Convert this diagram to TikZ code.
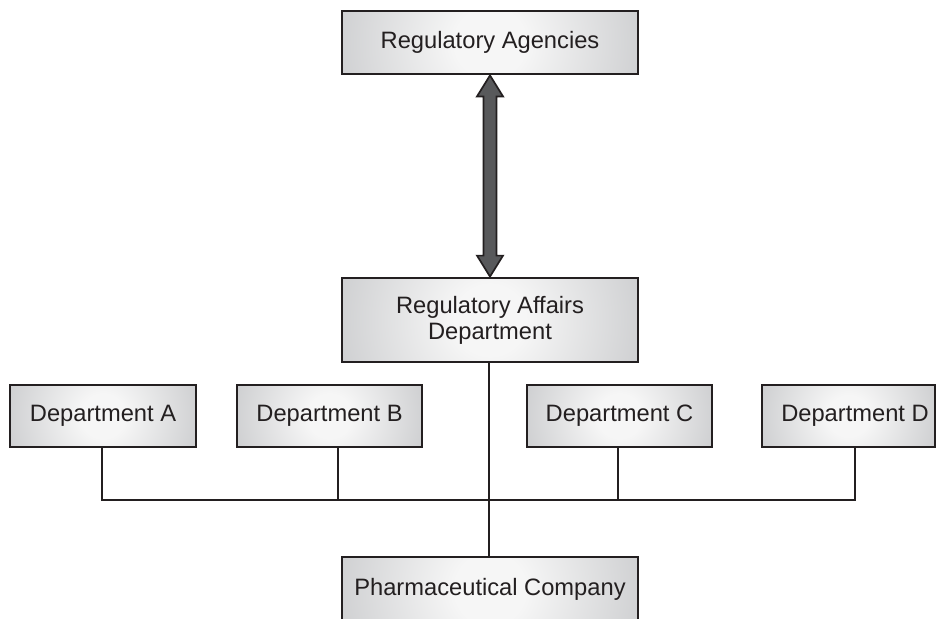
\documentclass[tikz,border=0pt]{standalone}
\usepackage{fontspec}
\setmainfont{Liberation Sans}
\usetikzlibrary{calc}

\definecolor{ink}{RGB}{35,31,32}
\definecolor{boxhi}{RGB}{246,246,246}
\definecolor{boxlo}{RGB}{160,162,166}
\definecolor{boxdeep}{RGB}{140,142,146}
\definecolor{arrowfill}{RGB}{88,89,91}

% soft radial glow used inside every box
\pgfdeclareradialshading{boxglow}{\pgfpoint{0bp}{0bp}}{%
  color(0bp)=(boxhi); color(3bp)=(boxhi); color(25bp)=(boxlo); color(50bp)=(boxdeep)}

\begin{document}
\begin{tikzpicture}[x=1pt,y=-1pt,
  unitbox/.style={draw=ink, line width=2.8pt, fill=boxlo, text=ink,
    align=center, inner sep=0pt,
    font=\fontsize{23.7}{26}\selectfont,
    path picture={\shade[shading=boxglow]
      let \p1=($(path picture bounding box.east)-(path picture bounding box.west)$) in
      (path picture bounding box.center) circle [radius=\x1];}},
  boxlabel/.style={text=ink, inner sep=0pt, font=\fontsize{23.7}{26}\selectfont},
  conn/.style={draw=ink, line width=2.3pt, line join=miter},
  bigarrow/.style={draw=ink, line width=1.7pt, fill=arrowfill, line join=miter}]

\clip (0,0) rectangle (936,618);

% top level and the regulatory affairs department
\node[unitbox, minimum width=296pt, minimum height=63pt] (ra) at (490,42.5) {Regulatory Agencies};
\node[unitbox, minimum width=296pt, minimum height=84pt] (rad) at (490,320) {Regulatory Affairs\\Department};

% departments
\node[unitbox, minimum width=186pt, minimum height=62pt] (dA) at (103,416) {Department A};
\node[unitbox, minimum width=185pt, minimum height=62pt] (dB) at (329.5,416) {Department B};
\node[unitbox, minimum width=185pt, minimum height=62pt] (dC) at (619.5,416) {Department C};
\node[unitbox, minimum width=173pt, minimum height=62pt] (dD) at (848.5,416) {};
\node[boxlabel] (dDt) at (855,416) {Department D};

% company
\node[unitbox, minimum width=296pt, minimum height=64pt] (pc) at (490,589) {Pharmaceutical Company};

% two-way exchange between agencies and the department
\draw[bigarrow]
  (ra.south) -- ($(ra.south)+(13,21)$) -- ($(ra.south)+(6.5,21)$)
  -- ($(rad.north)+(6.5,-21)$) -- ($(rad.north)+(13,-21)$)
  -- (rad.north)
  -- ($(rad.north)+(-13,-21)$) -- ($(rad.north)+(-6.5,-21)$)
  -- ($(ra.south)+(-6.5,21)$) -- ($(ra.south)+(-13,21)$) -- cycle;

% organisation lines
\coordinate (bus) at (489,500);
\coordinate (footA) at ($(dA.south)+(-1,0)$);
\coordinate (footB) at ($(dB.south)+(8.5,0)$);
\coordinate (footC) at ($(dC.south)+(-1.5,0)$);
\coordinate (footD) at (dDt |- dD.south);

\draw[conn] (rad.south -| bus) -- (pc.north -| bus);
\draw[conn] (footA) |- (bus) -| (footD);
\draw[conn] (footB) -- (footB |- bus);
\draw[conn] (footC) -- (footC |- bus);

\end{tikzpicture}
\end{document}
